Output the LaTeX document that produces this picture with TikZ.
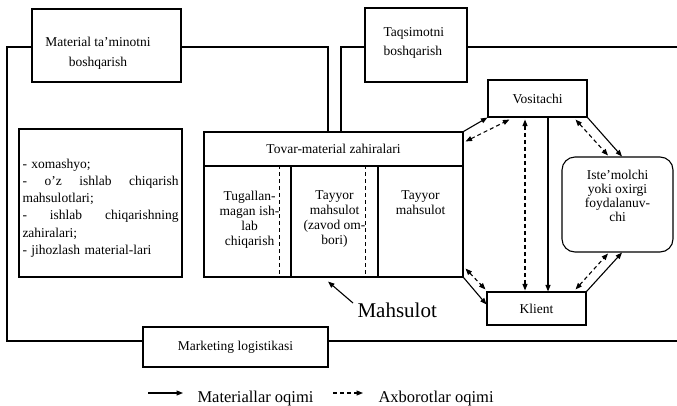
\documentclass[tikz,border=0pt]{standalone}
\usepackage{fontspec}
\setmainfont{Liberation Serif}
\usetikzlibrary{arrows.meta,calc}
\begin{document}
\begin{tikzpicture}[x=1pt,y=-1pt,
  line width=1.1pt,
  box/.style={draw, line width=1.1pt, inner sep=0pt, align=center,
    font=\fontsize{13.5}{15}\selectfont},
  lbl/.style={inner sep=0pt, align=center, font=\fontsize{13.5}{15}\selectfont},
  lbltall/.style={inner sep=0pt, font=\fontsize{13.5}{19.5}\selectfont},
  flow/.style={-{Triangle[length=6.5pt,width=5pt]}},
  info/.style={dash pattern=on 4pt off 3pt},
  infoflow/.style={info,{Triangle[length=6.5pt,width=5pt]}-{Triangle[length=6.5pt,width=5pt]}},
  infoone/.style={info,-{Triangle[length=6.5pt,width=5pt]}},
  legend/.style={inner sep=0pt, font=\fontsize{16.5}{18}\selectfont},
  bigtxt/.style={inner sep=0pt, font=\fontsize{21}{23}\selectfont}
]
\useasboundingbox (0,0) rectangle (677,405);

% management boxes
\node[box, minimum width=149pt, minimum height=73pt] (mat) at (106.5,45.5) {};
\node[lbltall, align=center] (matt) at (98,53) {Material ta'minotni\\boshqarish};
\node[box, minimum width=102pt, minimum height=74pt] (taq) at (416,45) {};
\node[lbltall, align=left, anchor=west] (taqt) at (383,43) {Taqsimotni\\boshqarish};
\node[box, minimum width=185pt, minimum height=40pt] (mkt) at (235.5,347) {Marketing logistikasi};

% frame corners
\coordinate (tl) at (7,47);
\coordinate (bl) at (7,341);
\coordinate (fa) at (328,47);
\coordinate (fb) at (341,47);
\coordinate (tr) at (677,47);
\coordinate (br) at (677,341);

% list box
\node[draw, line width=1.1pt, minimum width=163pt, minimum height=148pt] (lst) at (100.5,203) {};
\node[inner sep=0pt, text width=156pt, align=left,
  font=\fontsize{13.5}{17.2}\selectfont] (lstt) at (100.5,208) {%
- xomashyo;\\
-\hfill o'z\hfill ishlab\hfill chiqarish\\
mahsulotlari;\\
-\hfill ishlab\hfill chiqarishning\\
zahiralari;\\
- jihozlash material-lari};

% stock block
\node[box, minimum width=259pt, minimum height=34pt] (hdr) at (333.5,149) {Tovar-material zahiralari};
\node[box, minimum width=87pt, minimum height=111pt] (c1) at (247.5,221.5) {};
\node[box, minimum width=87pt, minimum height=111pt] (c2) at (334.5,221.5) {};
\node[box, minimum width=85pt, minimum height=111pt] (c3) at (420.5,221.5) {};
\node[lbl, anchor=north] (t1) at ($(c1.north)+(2,25)$) {Tugallan-\\magan ish-\\lab\\chiqarish};
\node[lbl, anchor=north] (t2) at ($(c2.north)+(0,25)$) {Tayyor\\mahsulot\\(zavod om-\\bori)};
\node[lbl, anchor=north] (t3) at ($(c3.north)+(0,25)$) {Tayyor\\mahsulot};

% participants
\node[box, minimum width=99pt, minimum height=37pt] (vos) at (537.5,98.5) {Vositachi};
\node[box, minimum width=99pt, minimum height=33pt] (kli) at (536.5,308.5) {Klient};
\node[draw, line width=1.1pt, rounded corners=13pt, minimum width=111pt, minimum height=95pt] (ist) at (617.5,204.5) {};
\node[lbl, anchor=north, font=\fontsize{13.5}{14}\selectfont] (istt) at ($(ist.north)+(0,13)$) {Iste'molchi\\yoki oxirgi\\foydalanuv-\\chi};

% mahsulot
\node[bigtxt, anchor=base west] (mah) at (357,317) {Mahsulot};

% legend
\node[legend, anchor=base west] (lg1) at (197,402) {Materiallar oqimi};
\node[legend, anchor=base west] (lg2) at (378,402) {Axborotlar oqimi};

% ---- lines ----
\draw (mat.west |- tl) -- (tl) -- (bl) -- (mkt.west |- bl);
\draw (mat.east |- fa) -- (fa) -- (fa |- hdr.north);
\draw (fb |- hdr.north) -- (fb) -- (taq.west |- fb);
\draw (taq.east |- tr) -- (tr);
\draw (mkt.east |- br) -- (br);

% dashed separators in stock block
\draw[info] ($(c1.north east)+(-12,0)$) -- ($(c1.south east)+(-12,0)$);
\draw[info] ($(c2.north east)+(-13,0)$) -- ($(c2.south east)+(-13,0)$);

% flows
\draw[flow] (hdr.north east) -- (vos.south west);
\draw[infoflow] ($(hdr.north east)+(2,10)$) -- ($(vos.south west)+(22,2)$);
\draw[infoflow] ($(vos.south)+(-12.5,2)$) -- ($(kli.north)+(-11.5,-1)$);
\draw[flow] ($(vos.south)+(10.5,0)$) -- ($(kli.north)+(11.5,0)$);
\draw[infoflow] ($(vos.south east)+(-12,2)$) -- ($(ist.north)+(-9.5,-1)$);
\draw[flow] (vos.south east) -- ($(ist.north)+(4.5,0)$);
\draw[flow] (kli.north east) -- ($(ist.south)+(4.5,0)$);
\draw[infoflow] ($(kli.north east)+(-11,-2)$) -- ($(ist.south)+(-9.5,1)$);
\draw[flow] (c3.south east) -- ($(kli.west)+(0,-4)$);
\draw[infoflow] ($(c3.south east)+(2,-9)$) -- ($(kli.north west)+(-1,-2)$);

% mahsulot arrow
\draw[flow] ($(mah.base west)+(-4,-14)$) -- ($(c2.south)+(-6.5,4)$);

% legend arrows
\draw[flow] ($(lg1.base west)+(-49,-9)$) -- ($(lg1.base west)+(-14,-9)$);
\draw[infoone] ($(lg2.base west)+(-45,-9)$) -- ($(lg2.base west)+(-15,-9)$);
\end{tikzpicture}
\end{document}
